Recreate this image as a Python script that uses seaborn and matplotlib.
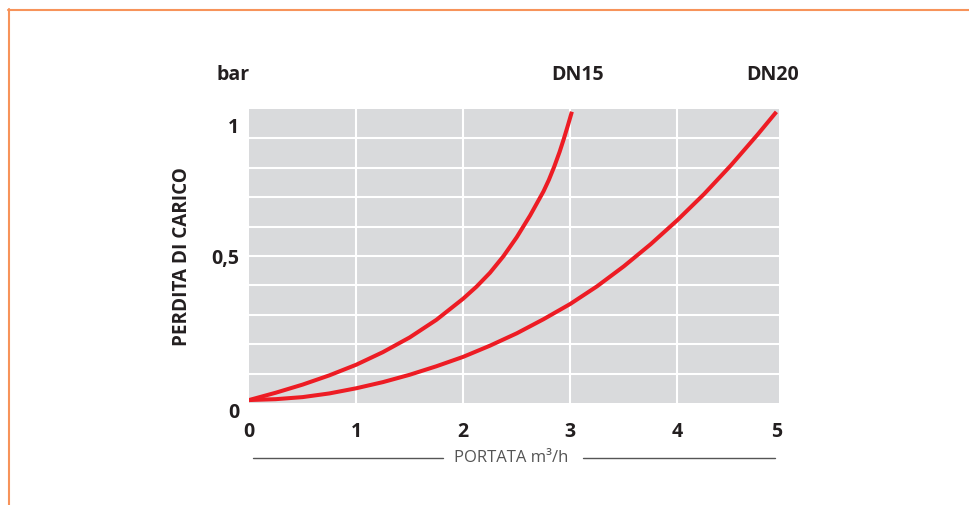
import pandas as pd
import matplotlib
matplotlib.use('Agg')
import matplotlib.pyplot as plt
from matplotlib.lines import Line2D
import seaborn as sns

# Curve data (portata m3/h vs perdita di carico bar)
dn15_q = [0, 0.25, 0.5, 0.75, 1.0, 1.25, 1.5, 1.75, 2.0, 2.125, 2.25, 2.375, 2.5, 2.625,
          2.75, 2.8, 2.85, 2.9, 2.94, 2.98, 3.015]
dn15_p = [0.01, 0.035, 0.0625, 0.094, 0.13, 0.173, 0.223, 0.283, 0.355, 0.396, 0.443, 0.499,
          0.564, 0.638, 0.72, 0.759, 0.804, 0.854, 0.899, 0.947, 0.991]
dn20_q = [0, 0.25, 0.5, 0.75, 1.0, 1.25, 1.5, 1.75, 2.0, 2.25, 2.5, 2.75, 3.0, 3.25, 3.5,
          3.75, 4.0, 4.25, 4.5, 4.75, 4.925]
dn20_p = [0.01, 0.013, 0.02, 0.0325, 0.05, 0.071, 0.096, 0.125, 0.157, 0.195, 0.237, 0.285,
          0.337, 0.397, 0.465, 0.54, 0.622, 0.711, 0.8085, 0.9135, 0.9905]

x_ticks = [0, 1, 2, 3, 4, 4.93]
x_labels = ['0', '1', '2', '3', '4', '5']
y_ticks = [0, 0.5, 0.945]
y_labels = ['0', '0,5', '1']
x_grid = [1, 2, 3, 4]
y_grid = [0.1, 0.2, 0.3, 0.4, 0.5, 0.6, 0.7, 0.8, 0.9]

df = pd.concat([
    pd.DataFrame({'q': dn15_q, 'p': dn15_p, 'serie': 'DN15'}),
    pd.DataFrame({'q': dn20_q, 'p': dn20_p, 'serie': 'DN20'}),
])

sns.set_theme(style='dark', rc={'axes.facecolor': '#D9DADC'})
plt.rcParams['font.family'] = ['Open Sans', 'DejaVu Sans']

red = '#ED1C24'
dark = '#231F20'

fig = plt.figure(figsize=(9.69, 5.05), dpi=100)
ax = fig.add_axes([0.257, 0.202, 0.547, 0.582])

for xv in x_grid:
    ax.axvline(xv, color='white', linewidth=1.5, zorder=1)
for yv in y_grid:
    ax.axhline(yv, color='white', linewidth=1.5, zorder=1)

sns.lineplot(data=df, x='q', y='p', hue='serie', palette=[red, red], linewidth=2.9,
             legend=False, sort=False, estimator=None, ax=ax, zorder=3,
             solid_capstyle='butt', solid_joinstyle='round')

ax.set_xlim(0, 4.95)
ax.set_ylim(0, 1.0)
ax.set_xticks(x_ticks)
ax.set_xticklabels(x_labels)
ax.set_yticks(y_ticks)
ax.set_yticklabels(y_labels)
ax.grid(False)
ax.tick_params(axis='x', pad=14, labelsize=14, colors=dark, length=0)
ax.tick_params(axis='y', pad=7, labelsize=14, colors=dark, length=0)
for lab in ax.get_xticklabels() + ax.get_yticklabels():
    lab.set_fontweight('bold')
ax.get_yticklabels()[0].set_va('top')
for s in ax.spines.values():
    s.set_visible(False)
ax.set_xlabel('')
ax.set_ylabel('')

W, H = 969, 505
def fx(px):
    return px / W
def fy(py):
    return 1 - py / H

fig.text(fx(233), fy(75), 'bar', ha='center', va='center', fontsize=14, fontweight='bold', color=dark)
fig.text(fx(578), fy(75), 'DN15', ha='center', va='center', fontsize=14, fontweight='bold', color=dark)
fig.text(fx(773), fy(75), 'DN20', ha='center', va='center', fontsize=14, fontweight='bold', color=dark)
fig.text(fx(182), fy(257), 'PERDITA DI CARICO', ha='center', va='center', rotation=90,
         fontsize=13.6, fontweight='bold', color=dark)
fig.text(fx(511), fy(458), 'PORTATA m³/h', ha='center', va='center', fontsize=12, color='#555555')

fig.add_artist(Line2D([fx(253), fx(443)], [fy(458), fy(458)], color='#555555', linewidth=1))
fig.add_artist(Line2D([fx(583), fx(775)], [fy(458), fy(458)], color='#555555', linewidth=1))

orange = '#F7935A'
fig.add_artist(Line2D([fx(8), 1], [fy(9.5), fy(9.5)], color=orange, linewidth=1.5))
fig.add_artist(Line2D([fx(8.5), fx(8.5)], [fy(9), 0], color=orange, linewidth=1.5))

fig.savefig('out.png', dpi=100, facecolor='white')
